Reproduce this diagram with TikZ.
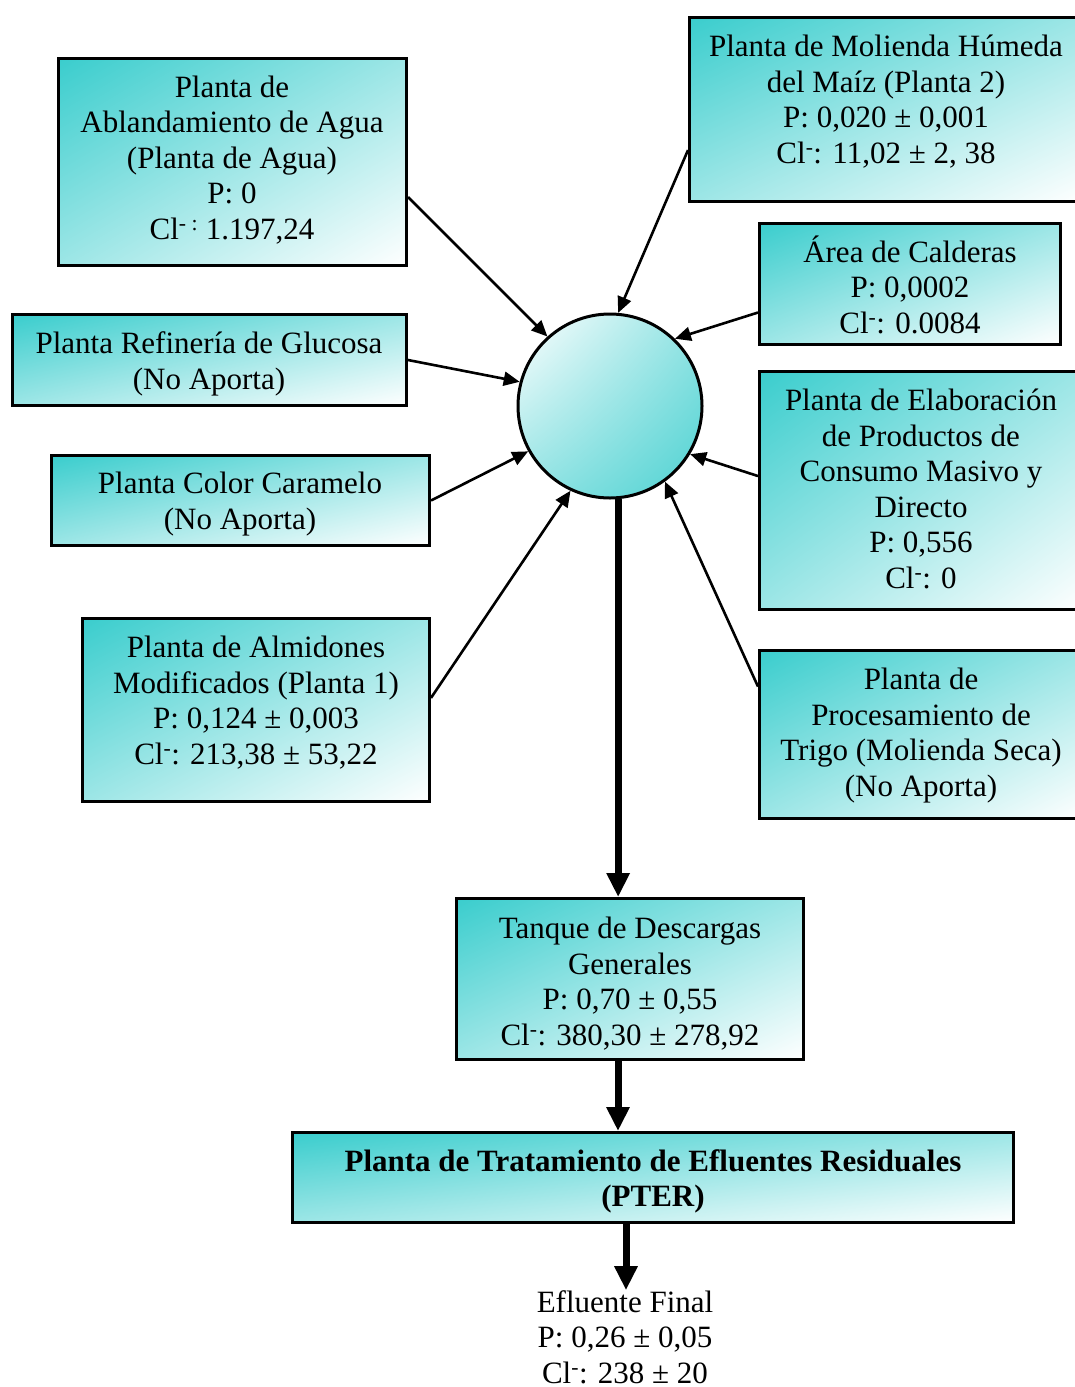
\documentclass[tikz,border=0pt]{standalone}
\usepackage{fontspec}
\setmainfont{Liberation Serif}
\usetikzlibrary{arrows.meta,calc,shadings}
\definecolor{tealc}{RGB}{58,205,205}
\begin{document}
\begin{tikzpicture}[x=1pt,y=-1pt,
  plant/.style={draw=black, line width=3pt, rectangle, inner sep=0pt,
    upper left=tealc, upper right=tealc!50!white,
    lower left=tealc!50!white, lower right=white},
  txt/.style={align=center, inner sep=0pt, font=\fontsize{31}{35.5}\selectfont},
  feed/.style={line width=2.6pt, -{Triangle[length=16pt,width=14pt]}},
  main/.style={line width=7pt, -{Triangle[length=24pt,width=22pt]}},
]
\useasboundingbox (0,0) rectangle (1075,1387);
\clip (0,0) rectangle (1075,1387);

% source plants
\node[plant, minimum width=348pt, minimum height=207pt] (abl) at (232.5,162) {};
\node[txt] (abltxt) at (232,160) {Planta de\\Ablandamiento de Agua\\(Planta de Agua)\\P: 0\\Cl\textsuperscript{- :} 1.197,24};

\node[plant, minimum width=393pt, minimum height=184pt] (mol) at (886,109.5) {};
\node[txt] (moltxt) at (886,101.5) {Planta de Molienda Húmeda\\del Maíz (Planta 2)\\P: 0,020 ± 0,001\\Cl\textsuperscript{-}: 11,02 ± 2, 38};

\node[plant, minimum width=394pt, minimum height=91pt] (ref) at (209.5,360) {};
\node[txt] (reftxt) at (209,364) {Planta Refinería de Glucosa\\(No Aporta)};

\node[plant, minimum width=378pt, minimum height=90pt] (car) at (240.5,500.5) {};
\node[txt] (cartxt) at (240,504) {Planta Color Caramelo\\(No Aporta)};

\node[plant, minimum width=347pt, minimum height=183pt] (alm) at (256,710) {};
\node[txt] (almtxt) at (256,702.5) {Planta de Almidones\\Modificados (Planta 1)\\P: 0,124 ± 0,003\\Cl\textsuperscript{-}: 213,38 ± 53,22};

\node[plant, minimum width=301pt, minimum height=121pt] (cal) at (910,284) {};
\node[txt] (caltxt) at (910,284.5) {Área de Calderas\\P: 0,0002\\Cl\textsuperscript{-}: 0.0084};

\node[plant, minimum width=323pt, minimum height=238pt] (ela) at (921,490.5) {};
\node[txt] (elatxt) at (921,489) {Planta de Elaboración\\de Productos de\\Consumo Masivo y\\Directo\\P: 0,556\\Cl\textsuperscript{-}: 0};

\node[plant, minimum width=323pt, minimum height=168pt] (tri) at (921,734.5) {};
\node[txt] (tritxt) at (921,735.5) {Planta de\\Procesamiento de\\Trigo (Molienda Seca)\\(No Aporta)};

% collecting point
\node[circle, draw=black, line width=3pt, minimum size=184pt, inner sep=0pt,
  upper left=white, upper right=tealc!55!white,
  lower left=tealc!55!white, lower right=tealc!90!white] (hub) at (610,406) {};

% discharge chain
\node[plant, minimum width=347pt, minimum height=161pt] (tan) at (630,979) {};
\node[txt] (tantxt) at (630,983.5) {Tanque de Descargas\\Generales\\P: 0,70 ± 0,55\\Cl\textsuperscript{-}: 380,30 ± 278,92};

\node[plant, minimum width=721pt, minimum height=90pt] (pter) at (653,1177.5) {};
\node[txt, font=\fontsize{31}{35.5}\selectfont\bfseries] (ptertxt) at (653,1181.5) {Planta de Tratamiento de Efluentes Residuales\\(PTER)};

\node[txt] (efl) at (625,1337) {Efluente Final\\P: 0,26 ± 0,05\\Cl\textsuperscript{-}: 238 ± 20};

% inflows
\draw[feed] ($(abl.north east)!0.667!(abl.south east)$) -- (hub.132);
\draw[feed] (ref.east) -- (hub.165);
\draw[feed] (car.east) -- (hub.209);
\draw[feed] ($(alm.north east)!0.435!(alm.south east)$) -- (hub.245);
\draw[feed] ($(mol.north west)!0.717!(mol.south west)$) -- (hub.85);
\draw[feed] ($(cal.north west)!0.73!(cal.south west)$) -- (hub.46);
\draw[feed] ($(ela.north west)!0.44!(ela.south west)$) -- (hub.329);
\draw[feed] ($(tri.north west)!0.22!(tri.south west)$) -- (hub.306);

% outflows
\draw[main] (hub.275) -- (hub.275 |- tan.north);
\draw[main] ($(tan.south)+(-12,0)$) coordinate (t1) -- (t1 |- pter.north);
\draw[main] ($(pter.south)+(-27,0)$) coordinate (p1) -- (p1 |- efl.north);
\end{tikzpicture}
\end{document}
